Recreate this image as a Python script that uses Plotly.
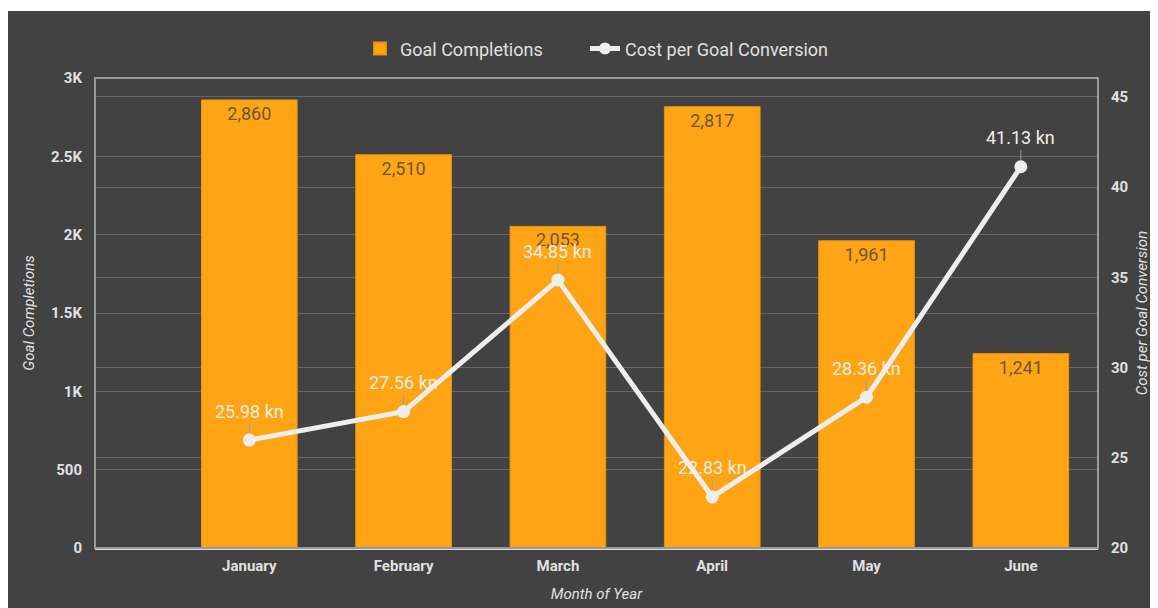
import plotly.graph_objects as go

months = ["January", "February", "March", "April", "May", "June"]
goal_completions = [2860, 2510, 2053, 2817, 1961, 1241]
cost_per_goal = [25.98, 27.56, 34.85, 22.83, 28.36, 41.13]
left_tickvals = [0, 500, 1000, 1500, 2000, 2500, 3000]
left_ticktext = ["0", "500", "1K", "1.5K", "2K", "2.5K", "3K"]
right_tickvals = [20, 25, 30, 35, 40, 45]

BG = "#424242"
GRID = "#666666"
FRAME = "#9a9a9a"
TXT = "#e0e0e0"
FONT = "Roboto"
TICKFONT = dict(size=15, color=TXT, family=FONT, weight="bold")
TITLEFONT = dict(size=15, color=TXT, family=FONT)
LEGFONT = dict(size=18, color=TXT, family=FONT)

fig = go.Figure()
fig.add_trace(go.Bar(
    x=months, y=goal_completions, name="Goal Completions", legend="legend",
    marker=dict(color="#FFA515", line=dict(color="#E8920F", width=1)),
    width=0.62,
    texttemplate="%{y:,}", textposition="inside", insidetextanchor="end",
    textfont=dict(color="#6b5730", size=18, family=FONT),
    cliponaxis=False,
))
fig.add_trace(go.Scatter(
    x=months, y=cost_per_goal, name="Cost per Goal Conversion", yaxis="y2", legend="legend2",
    mode="lines+markers",
    line=dict(color="#eeeeee", width=5),
    marker=dict(color="#eeeeee", size=13),
))

annotations = []
for m, v in zip(months, cost_per_goal):
    annotations.append(dict(
        x=m, y=v, xref="x", yref="y2", text=f"{v:.2f} kn",
        showarrow=True, arrowhead=0, arrowwidth=1, arrowcolor="#9e9e9e",
        ax=0, ay=-29, standoff=7,
        font=dict(color="#f2eee6", size=18, family=FONT),
    ))

shapes = [
    dict(type="rect", xref="paper", yref="paper", x0=-0.0877, x1=1.07, y0=-0.2, y1=1.1426,
         fillcolor=BG, line=dict(width=0), layer="below"),
    dict(type="rect", xref="paper", yref="paper", x0=0, x1=1, y0=0, y1=1,
         fillcolor="rgba(0,0,0,0)", line=dict(color=FRAME, width=2), layer="above"),
]

fig.update_layout(
    width=1150, height=600,
    margin=dict(l=87, r=60, t=70, b=60),
    paper_bgcolor="white", plot_bgcolor=BG,
    font=dict(family=FONT, color=TXT),
    showlegend=True,
    legend=dict(orientation="h", x=0.2642, xanchor="left", y=1.062, yanchor="middle",
                font=LEGFONT, bgcolor="rgba(0,0,0,0)", itemsizing="constant"),
    legend2=dict(orientation="h", x=0.4885, xanchor="left", y=1.062, yanchor="middle",
                 font=LEGFONT, bgcolor="rgba(0,0,0,0)", itemsizing="constant"),
    xaxis=dict(range=[-1, 5.5], showgrid=False, showline=True, linecolor="#dddddd", linewidth=2,
               ticks="", tickfont=TICKFONT, automargin=False, ticklabelstandoff=3,
               title=dict(text="<i>Month of Year</i>", font=TITLEFONT, standoff=14)),
    yaxis=dict(range=[0, 3000], tickvals=left_tickvals, ticktext=left_ticktext,
               showgrid=True, gridcolor=GRID, gridwidth=1, zeroline=False,
               tickfont=TICKFONT, ticks="", automargin=False, ticklabelstandoff=12,
               title=dict(text="<i>Goal Completions</i>", font=TITLEFONT, standoff=12)),
    yaxis2=dict(range=[20, 46.05], tickvals=right_tickvals, overlaying="y", side="right",
                showgrid=True, gridcolor=GRID, gridwidth=1, zeroline=False,
                tickfont=TICKFONT, ticks="", automargin=False, ticklabelstandoff=12,
                title=dict(text="<i>Cost per Goal Conversion</i>", font=TITLEFONT, standoff=9)),
    annotations=annotations,
    shapes=shapes,
)

fig.write_html("out.html")
